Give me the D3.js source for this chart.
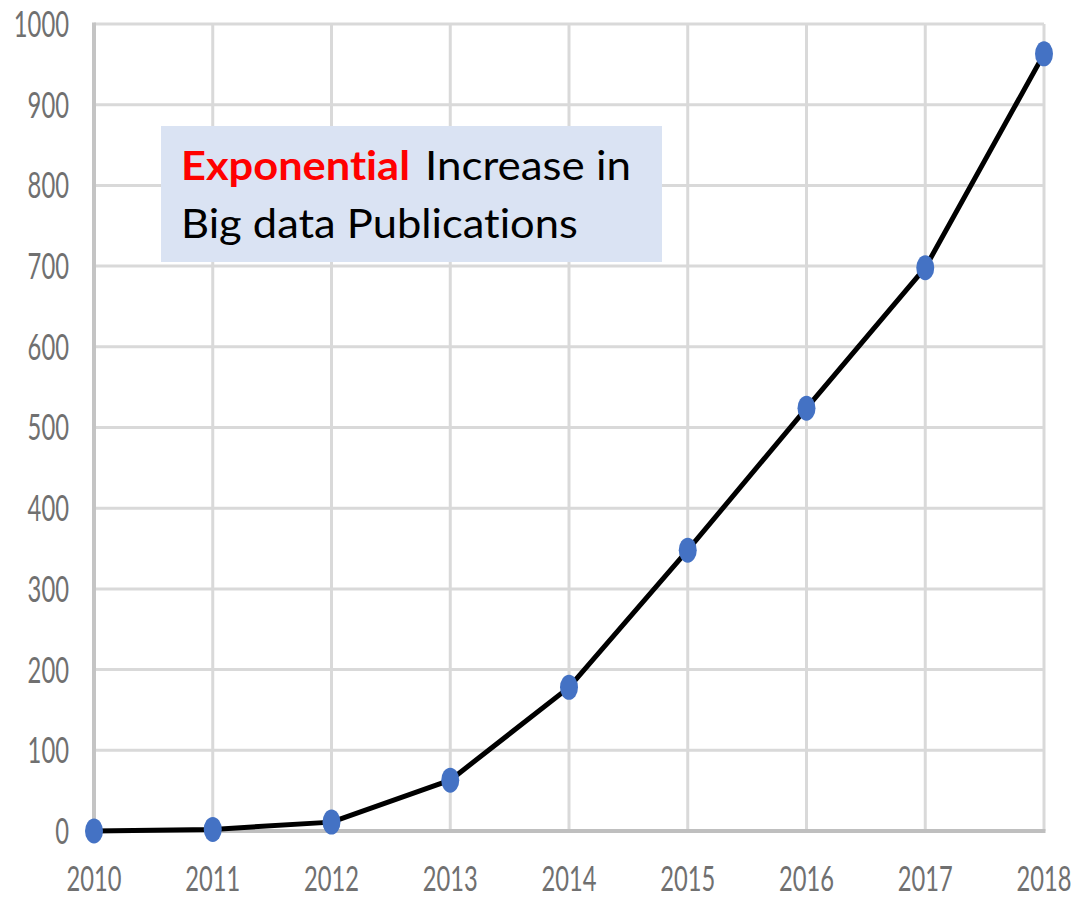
<!DOCTYPE html>
<html>
<head>
<meta charset="utf-8">
<script src="https://cdn.jsdelivr.net/npm/d3@7"></script>
<style>
  html, body { margin: 0; padding: 0; background: #ffffff; }
  svg { display: block; }
  text { font-variant-ligatures: none; font-feature-settings: "liga" 0, "dlig" 0; }
</style>
</head>
<body>
<svg id="chart" width="1079" height="898"></svg>
<script>
// ---- data ----
const years = [2010, 2011, 2012, 2013, 2014, 2015, 2016, 2017, 2018];
const publications = [0, 2, 11, 63, 178, 348, 524, 698, 963];
const yTicks = [0, 100, 200, 300, 400, 500, 600, 700, 800, 900, 1000];
const titleHighlight = "Exponential";
const titleLine1Rest = "Increase in";
const titleLine2 = "Big data Publications";

const svg = d3.select("#chart");
const W = 1079, H = 898;
const margin = { left: 94, right: 35, top: 24, bottom: 67 };

const x = d3.scaleLinear().domain([2010, 2018]).range([margin.left, W - margin.right]);
const y = d3.scaleLinear().domain([0, 1000]).range([H - margin.bottom, margin.top]);

const FONT = "Lato, 'Open Sans', sans-serif";

// horizontal condense helper: scale text about its anchor to a target width
function fitWidth(sel, target, anchorX) {
  sel.each(function () {
    const w = this.getComputedTextLength();
    const s = target / w;
    d3.select(this).attr("transform", `translate(${anchorX},0) scale(${s},1) translate(${-anchorX},0)`);
  });
}

// gridlines
const grid = svg.append("g");
grid.selectAll("line.h").data(yTicks.filter(d => d > 0)).join("line")
  .attr("x1", x(2010)).attr("x2", x(2018))
  .attr("y1", d => y(d)).attr("y2", d => y(d))
  .attr("stroke", "#d9d9d9").attr("stroke-width", 3);
grid.selectAll("line.v").data(years.filter(d => d > 2010)).join("line")
  .attr("x1", d => x(d)).attr("x2", d => x(d))
  .attr("y1", y(0)).attr("y2", y(1000))
  .attr("stroke", "#d9d9d9").attr("stroke-width", 3);

// left axis line
svg.append("line")
  .attr("x1", x(2010)).attr("x2", x(2010))
  .attr("y1", y(0)).attr("y2", y(1000) - 1.5)
  .attr("stroke", "#c4c4c4").attr("stroke-width", 4);
// bottom axis line
svg.append("line")
  .attr("x1", x(2010) - 2).attr("x2", x(2018) + 1.5)
  .attr("y1", y(0)).attr("y2", y(0))
  .attr("stroke", "#bfbfbf").attr("stroke-width", 4);

// y tick labels
const yl = svg.append("g").selectAll("text").data(yTicks).join("text")
  .attr("x", 69).attr("y", d => y(d) + 13)
  .attr("text-anchor", "end")
  .attr("font-family", FONT).attr("font-size", 36)
  .attr("fill", "#707070")
  .text(d => d);
yl.each(function (d) {
  const n = String(d).length;
  fitWidth(d3.select(this), n * 13.8, 69);
});

// x tick labels
const xl = svg.append("g").selectAll("text").data(years).join("text")
  .attr("x", d => x(d)).attr("y", 891)
  .attr("text-anchor", "middle")
  .attr("font-family", FONT).attr("font-size", 34)
  .attr("fill", "#707070")
  .text(d => d);
xl.each(function (d) { fitWidth(d3.select(this), 55, x(d)); });

// line
const line = d3.line().x((d, i) => x(years[i])).y(d => y(d));
svg.append("path").datum(publications)
  .attr("d", line)
  .attr("fill", "none").attr("stroke", "#000").attr("stroke-width", 5)
  .attr("stroke-linejoin", "round");

// markers
svg.append("g").selectAll("ellipse").data(publications).join("ellipse")
  .attr("cx", (d, i) => x(years[i])).attr("cy", d => y(d))
  .attr("rx", 9).attr("ry", 12.5)
  .attr("fill", "#4472c4");

// title box
svg.append("rect")
  .attr("x", 161).attr("y", 126).attr("width", 501).attr("height", 136)
  .attr("fill", "#dae3f3");

const t1 = svg.append("text").attr("x", 181).attr("y", 180)
  .attr("font-family", FONT).attr("font-size", 40).attr("fill", "#ff0000")
  .attr("font-weight", "bold").text(titleHighlight);
fitWidth(t1, 229, 181);
const t1b = svg.append("text").attr("x", 425).attr("y", 180)
  .attr("font-family", FONT).attr("font-size", 40).attr("fill", "#000")
  .text(titleLine1Rest);
fitWidth(t1b, 206, 425);
const t2 = svg.append("text").attr("x", 181).attr("y", 238)
  .attr("font-family", FONT).attr("font-size", 40).attr("fill", "#000")
  .text(titleLine2);
fitWidth(t2, 397, 181);
</script>
</body>
</html>
